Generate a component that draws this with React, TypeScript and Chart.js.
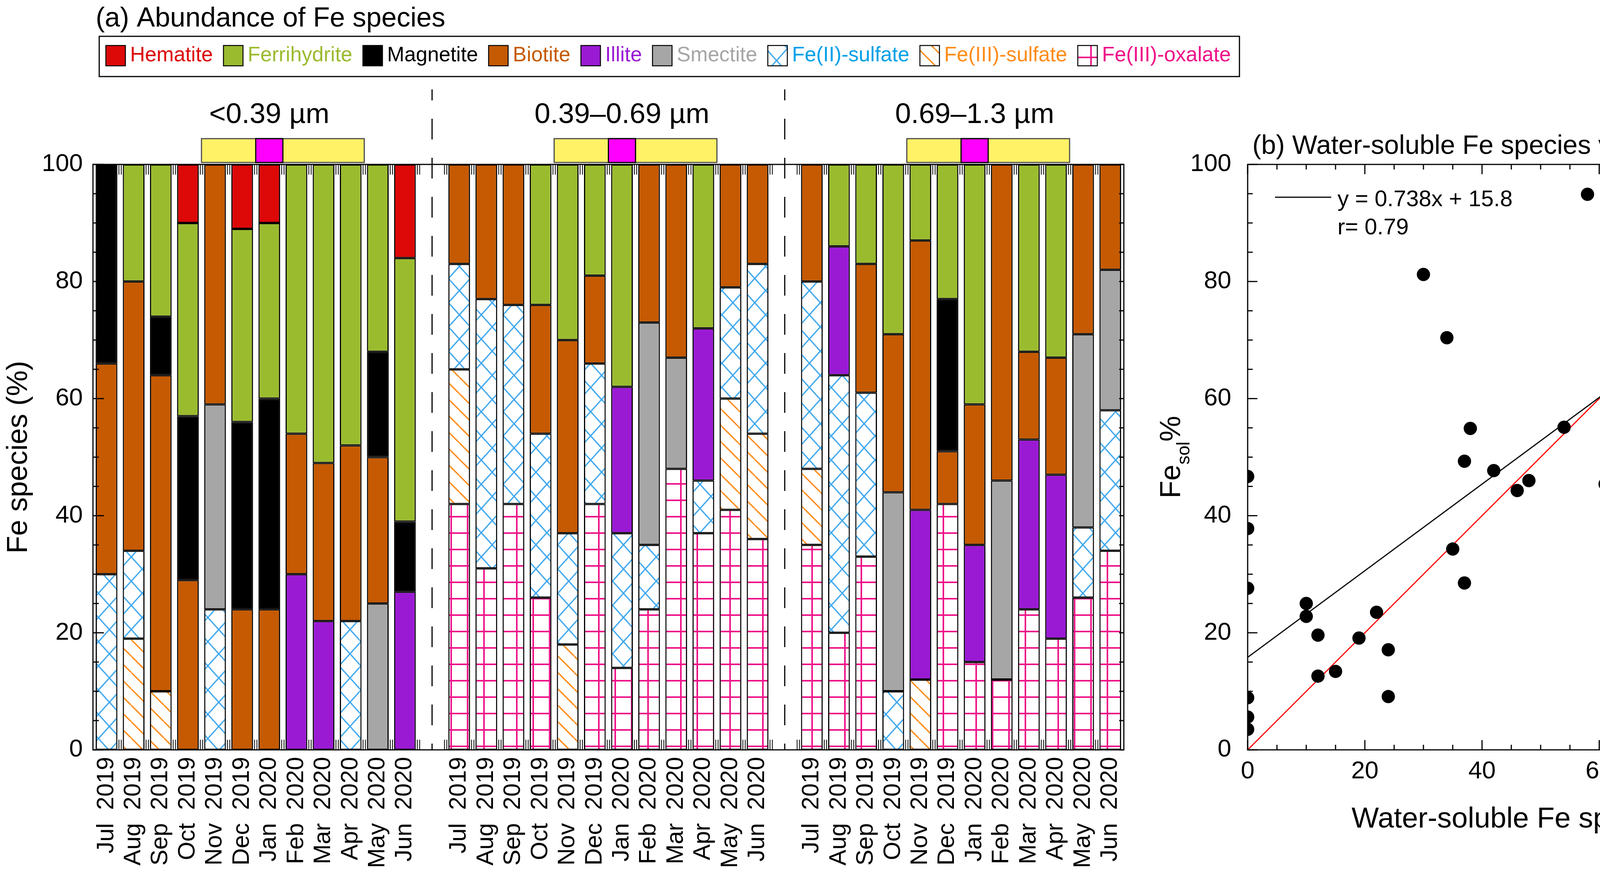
import React, { useEffect, useRef } from 'react';
import { Chart, registerables } from 'chart.js';

Chart.register(...registerables);

const FONT = '"Liberation Sans", Arial, Helvetica, sans-serif';

// ---------------- Panel (a) data ----------------
const months = ['Jul 2019', 'Aug 2019', 'Sep 2019', 'Oct 2019', 'Nov 2019', 'Dec 2019', 'Jan 2020', 'Feb 2020', 'Mar 2020', 'Apr 2020', 'May 2020', 'Jun 2020'];
const sizeBins = ['<0.39 \u00B5m', '0.39\u20130.69 \u00B5m', '0.69\u20131.3 \u00B5m'];
const heatingSeason = ['Nov 2019', 'Dec 2019', 'Jan 2020', 'Feb 2020', 'Mar 2020', 'Apr 2020'];
const peakMonth = 'Jan 2020';

// each array: 12 months for <0.39, then 12 for 0.39-0.69, then 12 for 0.69-1.3 (percent)
const hematite = [0, 0, 0, 10, 0, 11, 10, 0, 0, 0, 0, 16, 0, 0, 0, 0, 0, 0, 0, 0, 0, 0, 0, 0, 0, 0, 0, 0, 0, 0, 0, 0, 0, 0, 0, 0];
const ferrihydrite = [0, 20, 26, 33, 0, 33, 30, 46, 51, 48, 32, 45, 0, 0, 0, 24, 30, 19, 38, 0, 0, 28, 0, 0, 0, 14, 17, 29, 13, 23, 41, 0, 32, 33, 0, 0];
const magnetite = [34, 0, 10, 28, 0, 32, 36, 0, 0, 0, 18, 12, 0, 0, 0, 0, 0, 0, 0, 0, 0, 0, 0, 0, 0, 0, 0, 0, 0, 26, 0, 0, 0, 0, 0, 0];
const biotite = [36, 46, 54, 29, 41, 24, 24, 24, 27, 30, 25, 0, 17, 23, 24, 22, 33, 15, 0, 27, 33, 0, 21, 17, 20, 0, 22, 27, 46, 9, 24, 54, 15, 20, 29, 18];
const illite = [0, 0, 0, 0, 0, 0, 0, 30, 22, 0, 0, 27, 0, 0, 0, 0, 0, 0, 25, 0, 0, 26, 0, 0, 0, 22, 0, 0, 29, 0, 20, 0, 29, 28, 0, 0];
const smectite = [0, 0, 0, 0, 35, 0, 0, 0, 0, 0, 25, 0, 0, 0, 0, 0, 0, 0, 0, 38, 19, 0, 0, 0, 0, 0, 0, 34, 0, 0, 0, 34, 0, 0, 33, 24];
const feIISulfate = [30, 15, 0, 0, 24, 0, 0, 0, 0, 22, 0, 0, 18, 46, 34, 28, 19, 24, 23, 11, 0, 9, 19, 29, 32, 44, 28, 10, 0, 0, 0, 0, 0, 0, 12, 24];
const feIIISulfate = [0, 19, 10, 0, 0, 0, 0, 0, 0, 0, 0, 0, 23, 0, 0, 0, 18, 0, 0, 0, 0, 0, 19, 18, 13, 0, 0, 0, 12, 0, 0, 0, 0, 0, 0, 0];
const feIIIOxalate = [0, 0, 0, 0, 0, 0, 0, 0, 0, 0, 0, 0, 42, 31, 42, 26, 0, 42, 14, 24, 48, 37, 41, 36, 35, 20, 33, 0, 0, 42, 15, 12, 24, 19, 26, 34];

// stacking order, bottom -> top
const speciesNames = ['Fe(III)-oxalate', 'Fe(III)-sulfate', 'Fe(II)-sulfate', 'Smectite', 'Illite', 'Biotite', 'Magnetite', 'Ferrihydrite', 'Hematite'];
const speciesValues = [feIIIOxalate, feIIISulfate, feIISulfate, smectite, illite, biotite, magnetite, ferrihydrite, hematite];

// ---------------- Panel (b) data ----------------
const scatterX = [0, 0, 0, 0, 0, 0, 10, 10, 12, 12, 15, 19, 22, 24, 24, 30, 34, 35, 37, 37, 38, 42, 46, 48, 54, 58, 61, 64, 66, 76, 77, 80, 80, 83, 83];
const scatterY = [46.7, 37.8, 27.6, 8.9, 5.6, 3.5, 25.0, 22.8, 19.6, 12.6, 13.4, 19.1, 23.5, 17.1, 9.1, 81.2, 70.4, 34.3, 49.3, 28.5, 54.9, 47.7, 44.3, 46.0, 55.1, 94.9, 45.4, 59.8, 68.0, 57.6, 58.2, 82.9, 54.8, 89.7, 89.0];
const fitX = [0, 83];
const fitY = [15.8, 77.2];
const oneToOneX = [0, 100];
const oneToOneY = [0, 100];
const fitEquation = 'y = 0.738x + 15.8';
const fitR = 'r= 0.79';

// ---------------- styles ----------------
const speciesFill = ['grid', 'diag', 'cross', '#A6A6A6', '#9A1AD4', '#C55A02', '#000000', '#9BBB2F', '#DD0808'];
const speciesText = ['#EE1188', '#FF8C1A', '#00A0E8', '#A6A6A6', '#9A1AD4', '#C55A02', '#000000', '#9BBB2F', '#DD0808'];

function makePattern(kind: string): any {
  const c = document.createElement('canvas');
  const g = c.getContext('2d') as CanvasRenderingContext2D;
  if (kind === 'cross') {
    const w = 56, h = 62;
    c.width = w; c.height = h;
    g.fillStyle = '#fff'; g.fillRect(0, 0, w, h);
    g.strokeStyle = '#44AAEE'; g.lineWidth = 3.5;
    for (const dx of [-w, 0, w]) {
      g.beginPath(); g.moveTo(dx, 0); g.lineTo(dx + w, h); g.stroke();
      g.beginPath(); g.moveTo(dx + w, 0); g.lineTo(dx, h); g.stroke();
    }
  } else if (kind === 'diag') {
    const s = 42;
    c.width = s; c.height = s;
    g.fillStyle = '#fff'; g.fillRect(0, 0, s, s);
    g.strokeStyle = '#FF8C1A'; g.lineWidth = 3.5;
    for (const dx of [-s, 0, s]) {
      g.beginPath(); g.moveTo(dx, 0); g.lineTo(dx + s, s); g.stroke();
    }
  } else if (kind === 'grid') {
    const w = 42, h = 42;
    c.width = w; c.height = h;
    g.fillStyle = '#fff'; g.fillRect(0, 0, w, h);
    g.strokeStyle = '#EE1188';
    g.lineWidth = 4;
    g.beginPath(); g.moveTo(0, 21); g.lineTo(w, 21); g.stroke();
    g.beginPath(); g.moveTo(21, 0); g.lineTo(21, h); g.stroke();
  } else {
    return kind;
  }
  return g.createPattern(c, 'repeat');
}

function seg(ctx: CanvasRenderingContext2D, x1: number, y1: number, x2: number, y2: number, w: number, color = '#000') {
  ctx.beginPath();
  ctx.lineWidth = w;
  ctx.strokeStyle = color;
  ctx.moveTo(x1, y1);
  ctx.lineTo(x2, y2);
  ctx.stroke();
}

type Part = { text: string; size: number; dy: number };
function partsWidth(ctx: CanvasRenderingContext2D, parts: Part[]) {
  let w = 0;
  for (const p of parts) {
    ctx.font = `${p.size}px ${FONT}`;
    w += ctx.measureText(p.text).width;
  }
  return w;
}
function drawParts(ctx: CanvasRenderingContext2D, parts: Part[], x: number, y: number) {
  let cx = x;
  ctx.textAlign = 'left';
  ctx.textBaseline = 'alphabetic';
  for (const p of parts) {
    ctx.font = `${p.size}px ${FONT}`;
    ctx.fillText(p.text, cx, y + p.dy);
    cx += ctx.measureText(p.text).width;
  }
}

// slot layout: 12 months, blank slot, 12 months, blank slot, 12 months
const slotLabels: string[] = [];
sizeBins.forEach((_, g) => {
  months.forEach((m) => {
    const [mon, yr] = m.split(' ');
    slotLabels.push(`${mon}  ${yr}`);
  });
  if (g < sizeBins.length - 1) slotLabels.push('');
});
function toSlots(values: number[]) {
  const out: (number | null)[] = [];
  sizeBins.forEach((_, g) => {
    values.slice(g * 12, g * 12 + 12).forEach((v) => out.push(v === 0 ? null : v));
    if (g < sizeBins.length - 1) out.push(null);
  });
  return out;
}
function slotIndex(g: number, month: string) {
  return g * (months.length + 1) + months.indexOf(month);
}

const panelAPlugin = {
  id: 'panelA',
  afterDraw(chart: any) {
    const { ctx, chartArea: a, scales } = chart;
    const xs = scales.x, ys = scales.y;
    ctx.save();
    // frame
    ctx.strokeStyle = '#000';
    ctx.lineWidth = 3;
    ctx.strokeRect(a.left, a.top, a.right - a.left, a.bottom - a.top);
    // y ticks (inside)
    for (let v = 0; v <= 100; v += 5) {
      const y = ys.getPixelForValue(v);
      seg(ctx, a.left, y, a.left + (v % 20 === 0 ? 28 : 15), y, 3);
      seg(ctx, a.right, y, a.right - 12, y, 3);
    }
    // slot boundary ticks top & bottom
    const n = chart.data.labels.length;
    const half = (xs.getPixelForValue(1) - xs.getPixelForValue(0)) / 2;
    for (let i = 1; i < n; i++) {
      const x = xs.getPixelForValue(i) - half;
      for (const dx of [-3, 3]) {
        seg(ctx, x + dx, a.top, x + dx, a.top + 26, 2);
        seg(ctx, x + dx, a.bottom, x + dx, a.bottom - 26, 2);
      }
    }
    // dashed separators at blank slots
    ctx.setLineDash([53, 47]);
    ctx.lineDashOffset = 25;
    chart.data.labels.forEach((l: string, i: number) => {
      if (l === '') {
        const x = xs.getPixelForValue(i);
        seg(ctx, x, a.top - 192, x, a.bottom, 3);
      }
    });
    ctx.setLineDash([]);
    // heating season indicator + group labels
    sizeBins.forEach((name, g) => {
      const i0 = slotIndex(g, heatingSeason[0]);
      const i1 = slotIndex(g, heatingSeason[heatingSeason.length - 1]);
      const ip = slotIndex(g, peakMonth);
      const xL = xs.getPixelForValue(i0) - half;
      const xR = xs.getPixelForValue(i1) + half;
      const yT = a.top - 66, hgt = 61;
      ctx.fillStyle = '#FFF266';
      ctx.fillRect(xL, yT, xR - xL, hgt);
      ctx.strokeStyle = '#505050';
      ctx.lineWidth = 3;
      ctx.strokeRect(xL, yT, xR - xL, hgt);
      const pL = xs.getPixelForValue(ip) - half, pR = xs.getPixelForValue(ip) + half;
      ctx.fillStyle = '#FF00FF';
      ctx.fillRect(pL, yT, pR - pL, hgt);
      ctx.strokeStyle = '#000';
      ctx.strokeRect(pL, yT, pR - pL, hgt);
      ctx.fillStyle = '#000';
      ctx.font = `73px ${FONT}`;
      ctx.textAlign = 'center';
      ctx.textBaseline = 'alphabetic';
      ctx.fillText(name, xs.getPixelForValue(ip), a.top - 106);
    });
    // title
    ctx.fillStyle = '#000';
    ctx.font = `70px ${FONT}`;
    ctx.textAlign = 'left';
    ctx.textBaseline = 'alphabetic';
    ctx.fillText('(a) Abundance of Fe species', 245, 68);
    // legend
    const bx = 254, by = 93, bw = 2919, bh = 103;
    ctx.fillStyle = '#fff';
    ctx.fillRect(bx, by, bw, bh);
    ctx.strokeStyle = '#000';
    ctx.lineWidth = 3;
    ctx.strokeRect(bx, by, bw, bh);
    let x = 271;
    const sw = 50, cy = by + bh / 2 - 3;
    ctx.font = `53px ${FONT}`;
    const ds = chart.data.datasets;
    for (let k = ds.length - 1; k >= 0; k--) {
      const d = ds[k];
      ctx.fillStyle = d.backgroundColor;
      ctx.fillRect(x, cy - sw / 2, sw, sw + 2);
      ctx.strokeStyle = '#000';
      ctx.lineWidth = 2.5;
      ctx.strokeRect(x, cy - sw / 2, sw, sw + 2);
      x += sw + 12;
      ctx.fillStyle = speciesText[k];
      ctx.textBaseline = 'middle';
      ctx.fillText(d.label, x, cy + 1);
      x += ctx.measureText(d.label).width + 27;
    }
    ctx.restore();
  },
};

const panelBPlugin = {
  id: 'panelB',
  afterDraw(chart: any) {
    const { ctx, chartArea: a, scales } = chart;
    const xs = scales.x, ys = scales.y;
    ctx.save();
    ctx.strokeStyle = '#000';
    ctx.lineWidth = 3;
    ctx.strokeRect(a.left, a.top, a.right - a.left, a.bottom - a.top);
    for (let v = 0; v <= 100; v += 5) {
      const major = v % 20 === 0;
      const L = major ? 25 : 13;
      const y = ys.getPixelForValue(v);
      seg(ctx, a.left, y, a.left + L, y, 3);
      seg(ctx, a.right, y, a.right - L, y, 3);
      const x = xs.getPixelForValue(v);
      seg(ctx, x, a.bottom, x, a.bottom - L, 3);
      seg(ctx, x, a.top, x, a.top + L, 3);
    }
    // fit legend
    seg(ctx, a.left + 70, a.top + 84, a.left + 214, a.top + 84, 3);
    ctx.fillStyle = '#000';
    ctx.font = `58px ${FONT}`;
    ctx.textAlign = 'left';
    ctx.textBaseline = 'alphabetic';
    ctx.fillText(fitEquation, a.left + 230, a.top + 107);
    ctx.fillText(fitR, a.left + 230, a.top + 179);
    // title
    drawParts(ctx, [
      { text: '(b) Water-soluble Fe species vs. Fe', size: 68, dy: 0 },
      { text: 'sol', size: 42, dy: 18 },
      { text: '%', size: 68, dy: 0 },
    ], a.left + 12, a.top - 27);
    // y title rotated
    const parts: Part[] = [
      { text: 'Fe', size: 74, dy: 0 },
      { text: 'sol', size: 46, dy: 24 },
      { text: '%', size: 74, dy: 0 },
    ];
    ctx.save();
    ctx.translate(a.left - 173, (a.top + a.bottom) / 2);
    ctx.rotate(-Math.PI / 2);
    const w = partsWidth(ctx, parts);
    drawParts(ctx, parts, -w / 2, 0);
    ctx.restore();
    ctx.restore();
  },
};

export default function App() {
  const refA = useRef<HTMLCanvasElement>(null);
  const refB = useRef<HTMLCanvasElement>(null);

  useEffect(() => {
    Chart.defaults.font.family = FONT;
    Chart.defaults.color = '#000';

    const chartA = new Chart(refA.current as HTMLCanvasElement, {
      type: 'bar',
      data: {
        labels: slotLabels,
        datasets: speciesNames.map((name, k) => ({
          label: name,
          data: toSlots(speciesValues[k]),
          backgroundColor: makePattern(speciesFill[k]),
          borderColor: '#000',
          borderWidth: 3,
          borderSkipped: false,
          barPercentage: 0.8,
          categoryPercentage: 1,
        })),
      },
      options: {
        animation: false,
        responsive: false,
        devicePixelRatio: 1,
        layout: { padding: { left: 0, top: 421, right: 3190 - 2877, bottom: 0 } },
        plugins: { legend: { display: false }, title: { display: false }, tooltip: { enabled: false } },
        scales: {
          x: {
            stacked: true,
            offset: true,
            grid: { display: false, drawTicks: false },
            border: { display: false },
            ticks: { autoSkip: false, maxRotation: 90, minRotation: 90, padding: 18, color: '#000', font: { size: 61, family: FONT } },
            afterFit: (s: any) => { s.height = 2243 - 1920; },
          },
          y: {
            stacked: true,
            min: 0,
            max: 100,
            grid: { display: false, drawTicks: false },
            border: { display: false },
            ticks: { stepSize: 20, padding: 26, color: '#000', font: { size: 63, family: FONT } },
            title: { display: true, text: 'Fe species (%)', color: '#000', font: { size: 74, family: FONT }, padding: { top: 4, bottom: 0 } },
            afterFit: (s: any) => { s.width = 238; },
          },
        },
      } as any,
      plugins: [panelAPlugin],
    });

    const chartB = new Chart(refB.current as HTMLCanvasElement, {
      type: 'scatter',
      data: {
        datasets: [
          {
            type: 'scatter',
            label: 'samples',
            data: scatterX.map((x, i) => ({ x, y: scatterY[i] })),
            backgroundColor: '#000',
            borderColor: '#000',
            pointRadius: 17,
            borderWidth: 0,
          },
          {
            type: 'line',
            label: 'fit',
            data: fitX.map((x, i) => ({ x, y: fitY[i] })),
            borderColor: '#000',
            borderWidth: 3,
            pointRadius: 0,
            fill: false,
          },
          {
            type: 'line',
            label: '1:1',
            data: oneToOneX.map((x, i) => ({ x, y: oneToOneY[i] })),
            borderColor: '#FF0000',
            borderWidth: 3,
            pointRadius: 0,
            fill: false,
          },
        ],
      } as any,
      options: {
        animation: false,
        responsive: false,
        devicePixelRatio: 1,
        layout: { padding: { left: 0, top: 421, right: 72, bottom: 0 } },
        plugins: { legend: { display: false }, title: { display: false }, tooltip: { enabled: false } },
        scales: {
          x: {
            type: 'linear',
            min: 0,
            max: 100,
            grid: { display: false, drawTicks: false },
            border: { display: false },
            ticks: { stepSize: 20, padding: 18, color: '#000', font: { size: 63, family: FONT } },
            title: { display: true, text: 'Water-soluble Fe species (%)', color: '#000', font: { size: 74, family: FONT }, padding: { top: 0, bottom: 100 } },
            afterFit: (s: any) => { s.height = 2243 - 1920; },
          },
          y: {
            type: 'linear',
            min: 0,
            max: 100,
            grid: { display: false, drawTicks: false },
            border: { display: false },
            ticks: { stepSize: 20, padding: 42, color: '#000', font: { size: 63, family: FONT } },
            afterFit: (s: any) => { s.width = 264; },
          },
        },
      } as any,
      plugins: [panelBPlugin],
    });

    return () => {
      chartA.destroy();
      chartB.destroy();
    };
  }, []);

  return (
    <div style={{ position: 'absolute', left: 0, top: 0, width: 4766, height: 2243, background: '#fff', overflow: 'hidden' }}>
      <canvas ref={refA} width={3190} height={2243} style={{ position: 'absolute', left: 0, top: 0, width: 3190, height: 2243 }} />
      <canvas ref={refB} width={1836} height={2243} style={{ position: 'absolute', left: 2930, top: 0, width: 1836, height: 2243 }} />
    </div>
  );
}
